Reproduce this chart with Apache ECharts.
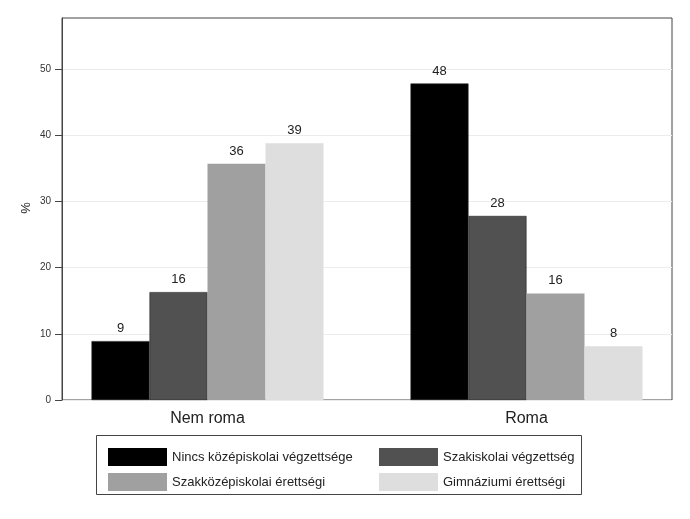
<!DOCTYPE html>
<html>
<head>
<meta charset="utf-8">
<script src="https://cdn.jsdelivr.net/npm/echarts@6/dist/echarts.min.js"></script>
<style>
html,body{margin:0;padding:0;background:#fff;}
#c{width:690px;height:519px;}
</style>
</head>
<body>
<div id="c"></div>
<script>
var categories = ['Nem roma', 'Roma'];
var seriesNames = ['Nincs középiskolai végzettsége', 'Szakiskolai végzettség', 'Szakközépiskolai érettségi', 'Gimnáziumi érettségi'];
var nincs = [8.9, 47.8];
var szakiskolai = [16.3, 27.8];
var szakkozep = [35.7, 16.1];
var gimnazium = [38.8, 8.1];
var yTicks = [0, 10, 20, 30, 40, 50];
var yTitle = '%';

var colors = ['#000000', '#515151', '#a0a0a0', '#dedede'];
var values = [nincs, szakiskolai, szakkozep, gimnazium];
var FONT = 'Liberation Sans, Arial, sans-serif';
var YMAX = 57.7;

var series = seriesNames.map(function (name, i) {
  return {
    name: name,
    type: 'bar',
    xAxisIndex: 1,
    yAxisIndex: 1,
    data: values[i],
    barWidth: 58,
    barGap: '0%',
    itemStyle: { color: colors[i], borderColor: i < 2 ? '#222' : colors[i], borderWidth: i < 2 ? 0.6 : 0 },
    label: {
      show: true, position: 'top', distance: 6,
      fontFamily: FONT, fontSize: 13, color: '#222',
      formatter: function (p) { return Math.round(p.value); }
    }
  };
});

var legendText = { fontFamily: FONT, fontSize: 13, color: '#222' };

var chart = echarts.init(document.getElementById('c'), null, { renderer: 'canvas' });
chart.setOption({
  backgroundColor: '#fff',
  animation: false,
  grid: [
    { left: 62, right: 18, top: 18, bottom: 119, show: true, borderColor: '#444', borderWidth: 1, backgroundColor: 'transparent' },
    { left: 48, right: 4, top: 18, bottom: 119 }
  ],
  xAxis: [
    { gridIndex: 0, type: 'value', show: false, min: 0, max: 1 },
    { gridIndex: 1, type: 'category', data: categories,
      axisLine: { show: false }, axisTick: { show: false },
      axisLabel: { fontFamily: FONT, fontSize: 16, color: '#222', margin: 11 } }
  ],
  yAxis: [
    { gridIndex: 0, type: 'value', min: 0, max: YMAX, interval: 10,
      axisLine: { show: true, lineStyle: { color: '#444', width: 1 } },
      axisTick: { show: true, length: 7, customValues: yTicks, lineStyle: { color: '#444' } },
      axisLabel: { fontFamily: FONT, fontSize: 10, color: '#333', margin: 11, customValues: yTicks },
      splitLine: { show: true, lineStyle: { color: '#ececec', width: 1 } } },
    { gridIndex: 1, type: 'value', min: 0, max: YMAX, show: false, splitLine: { show: false } }
  ],
  legend: [
    { data: [seriesNames[0], seriesNames[2]], orient: 'vertical', left: 103, top: 443,
      icon: 'rect', itemWidth: 59, itemHeight: 18, itemGap: 7,
      itemStyle: { borderWidth: 0 }, textStyle: legendText },
    { data: [seriesNames[1], seriesNames[3]], orient: 'vertical', left: 374, top: 443,
      icon: 'rect', itemWidth: 59, itemHeight: 18, itemGap: 7,
      itemStyle: { borderWidth: 0 }, textStyle: legendText }
  ],
  graphic: [
    { type: 'rect', shape: { x: 96.5, y: 435.5, width: 485, height: 59 },
      style: { fill: 'none', stroke: '#444', lineWidth: 1 }, silent: true, z: 0 },
    { type: 'text', x: 26, y: 208, rotation: Math.PI / 2, silent: true,
      style: { text: yTitle, font: '13px ' + FONT, fill: '#222', align: 'center', verticalAlign: 'middle' } }
  ],
  series: series
});
</script>
</body>
</html>
